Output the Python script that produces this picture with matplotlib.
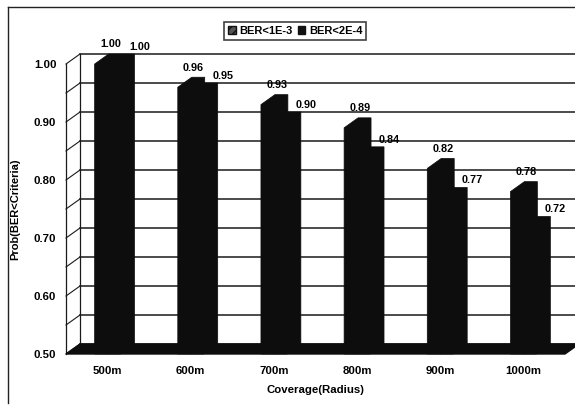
import matplotlib
matplotlib.use("Agg")
import matplotlib.pyplot as plt
from matplotlib.patches import Polygon, Patch
from matplotlib.lines import Line2D
import numpy as np

categories = ["500m", "600m", "700m", "800m", "900m", "1000m"]
ber_1e3 = [1.00, 0.96, 0.93, 0.89, 0.82, 0.78]
ber_2e4 = [1.00, 0.95, 0.90, 0.84, 0.77, 0.72]
series_names = ["BER<1E-3", "BER<2E-4"]
major_ticks = [0.50, 0.60, 0.70, 0.80, 0.90, 1.00]
grid_levels = [0.50, 0.55, 0.60, 0.65, 0.70, 0.75, 0.80, 0.85, 0.90, 0.95, 1.00]

plt.rcParams["font.family"] = ["Liberation Sans", "DejaVu Sans"]
plt.rcParams["font.weight"] = "bold"

W, H = 575, 405
fig = plt.figure(figsize=(W / 100, H / 100), dpi=100)
fig.patch.set_facecolor("white")

# front plane of the 3-D box
ax = fig.add_axes([66 / W, (H - 354) / H, 499 / W, 290 / H])
ax.set_xlim(-0.5, len(categories) - 0.5)
ax.set_ylim(0.5, 1.0)
for s in ax.spines.values():
    s.set_visible(False)
ax.set_facecolor("none")

# oblique depth offset (data units)
DX = 0.168
DY = 0.0172
BW = 0.156  # bar width
x_lo, x_hi = -0.5, len(categories) - 0.5
ink = "#0d0d0d"
wall = "#1a1a1a"

# back wall gridlines
for g in grid_levels:
    ax.plot([x_lo + DX, x_hi + DX], [g + DY, g + DY], color=wall,
            lw=1.1, clip_on=False, zorder=1)
# left wall
ax.plot([x_lo, x_lo], [0.5, 1.0], color=wall, lw=0.9, clip_on=False, zorder=1)
ax.plot([x_lo + DX, x_lo + DX], [0.5 + DY, 1.0 + DY], color=wall, lw=0.9,
        clip_on=False, zorder=1)
for g in grid_levels:
    ax.plot([x_lo, x_lo + DX], [g, g + DY], color=wall, lw=0.8,
            clip_on=False, zorder=1)

# floor
ax.add_patch(Polygon([(x_lo, 0.5), (x_hi, 0.5), (x_hi + DX, 0.5 + DY),
                      (x_lo + DX, 0.5 + DY)], closed=True, facecolor=ink,
                     edgecolor=ink, clip_on=False, zorder=2))


def column(x0, v, z):
    x1 = x0 + BW
    pts = [(x0, 0.5), (x0, v), (x0 + DX, v + DY), (x1 + DX, v + DY),
           (x1 + DX, 0.5 + DY), (x1, 0.5)]
    ax.add_patch(Polygon(pts, closed=True, facecolor=ink, edgecolor=ink,
                         lw=0.5, clip_on=False, zorder=z))


xs = np.arange(len(categories))
for i, c in enumerate(xs):
    column(c, ber_2e4[i], 3)
    column(c - BW, ber_1e3[i], 4)
    ax.annotate(f"{ber_1e3[i]:.2f}", xy=(c, ber_1e3[i] + DY), xytext=(2, 7),
                textcoords="offset points", ha="center", va="center",
                fontsize=7.8, fontweight="bold", annotation_clip=False)
    ax.annotate(f"{ber_2e4[i]:.2f}", xy=(c, ber_2e4[i] + DY), xytext=(23, 5),
                textcoords="offset points", ha="center", va="center",
                fontsize=7.8, fontweight="bold", annotation_clip=False)

ax.set_xticks(xs)
ax.set_xticklabels(categories, fontsize=8.2, fontweight="bold")
ax.set_yticks(major_ticks)
ax.set_yticklabels([f"{t:.2f}" for t in major_ticks], fontsize=8.2, fontweight="bold")
ax.tick_params(axis="both", length=0)
ax.tick_params(axis="y", pad=7)
ax.tick_params(axis="x", pad=9)
ax.set_xlabel("Coverage(Radius)", fontsize=8.2, fontweight="bold", labelpad=6)
ax.set_ylabel("Prob(BER<Criteria)", fontsize=8, fontweight="bold")
ax.yaxis.set_label_coords(-46 / 499, 0.5)

handles = [Patch(facecolor="#555555", edgecolor="#111111", hatch="////"),
           Patch(facecolor="#111111", edgecolor="#111111", hatch="||||")]
leg = fig.legend(handles, series_names, loc="center", ncol=2,
                 bbox_to_anchor=(295 / W, 1 - 31 / H),
                 frameon=True, fancybox=False, handlelength=0.7,
                 handleheight=0.7, handletextpad=0.3, columnspacing=0.5,
                 borderpad=0.35, prop={"weight": "bold", "size": 8})
leg.get_frame().set_edgecolor("#111111")
leg.get_frame().set_linewidth(1.2)

# outer chart border
fig.add_artist(Line2D([8 / W, 8 / W], [1 - 7 / H, 1 - 403 / H],
                      transform=fig.transFigure, color="#222222", lw=1.0))
fig.add_artist(Line2D([8 / W, 1.0], [1 - 7 / H, 1 - 7 / H],
                      transform=fig.transFigure, color="#222222", lw=1.0))

fig.savefig("out.png", dpi=100, facecolor="white")
